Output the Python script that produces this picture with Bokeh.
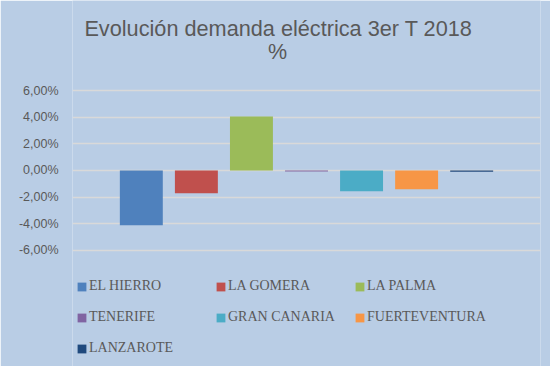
from bokeh.plotting import figure
from bokeh.models import (Range1d, FixedTicker, CustomJSTickFormatter, Legend, LegendItem,
                          Label, ColumnDataSource)
from bokeh.embed import file_html
from bokeh.resources import INLINE

# ---- data ----
categories = ["EL HIERRO", "LA GOMERA", "LA PALMA", "TENERIFE", "GRAN CANARIA",
              "FUERTEVENTURA", "LANZAROTE"]
values = [-0.0413, -0.0171, 0.0407, -0.0008, -0.0156, -0.0141, -0.0010]
colors = ["#4f81bd", "#c0504d", "#9bbb59", "#8064a2", "#4bacc6", "#f79646", "#1f497d"]
y_ticks = [-0.06, -0.04, -0.02, 0.0, 0.02, 0.04, 0.06]
title_line1 = "Evolución demanda eléctrica 3er T 2018"
title_line2 = "%"

BG = "#b9cde5"
TXT = "#595959"

W, H = 550, 366
# frame spans the full height; title and legend live inside it, above/below the bars
p = figure(width=W, height=H, output_backend="svg", toolbar_location=None,
           x_axis_type=None,
           x_range=Range1d(-0.25, len(categories) + 1.25),
           y_range=Range1d(-0.1476, 0.1280),
           min_border_left=72, min_border_right=10,
           min_border_top=0, min_border_bottom=0)
p.background_fill_color = BG
p.border_fill_color = BG
p.outline_line_color = None

xs = list(range(1, len(categories) + 1))
renderers = []
for i, (c, v, col) in enumerate(zip(categories, values, colors)):
    src = ColumnDataSource(dict(x=[xs[i]], top=[v], cat=[c]))
    r = p.vbar(x="x", top="top", bottom=0, width=0.78, source=src,
               fill_color=col, line_color=None)
    renderers.append(r)

# y axis
yax = p.yaxis[0]
yax.ticker = FixedTicker(ticks=y_ticks)
yax.formatter = CustomJSTickFormatter(
    code="return (tick*100).toFixed(2).replace('.', ',') + '%';")
yax.axis_line_color = None
yax.major_tick_line_color = None
yax.minor_tick_line_color = None
yax.major_tick_out = 0
yax.major_tick_in = 0
yax.major_label_standoff = 14
yax.major_label_text_font = "Liberation Sans"
yax.major_label_text_font_size = "12.5px"
yax.major_label_text_color = TXT

p.xgrid.visible = False
p.ygrid.ticker = FixedTicker(ticks=y_ticks)
p.ygrid.grid_line_color = "#d9d9d9"
p.ygrid.grid_line_width = 1.5

# legend
items = [LegendItem(label=c, renderers=[r]) for c, r in zip(categories, renderers)]
legend = Legend(items=items, orientation="horizontal", ncols=3,
                location=(4, 8),
                glyph_width=11, glyph_height=11, label_standoff=2,
                label_width=115, label_height=20, spacing=11,
                padding=0, margin=0,
                background_fill_alpha=0, border_line_color=None,
                label_text_font="Liberation Serif", label_text_font_size="14px",
                label_text_color=TXT)
p.add_layout(legend, "center")

# title (two centred lines)
t1 = Label(x=206, y=338, x_units="screen", y_units="screen", text=title_line1,
           text_align="center", text_baseline="middle",
           text_font="Liberation Sans", text_font_size="21.7px", text_color=TXT)
t2 = Label(x=205, y=315, x_units="screen", y_units="screen", text=title_line2,
           text_align="center", text_baseline="middle",
           text_font="Liberation Sans", text_font_size="21.5px", text_color=TXT)
p.add_layout(t1)
p.add_layout(t2)

open("out.html", "w").write(file_html(p, INLINE))
